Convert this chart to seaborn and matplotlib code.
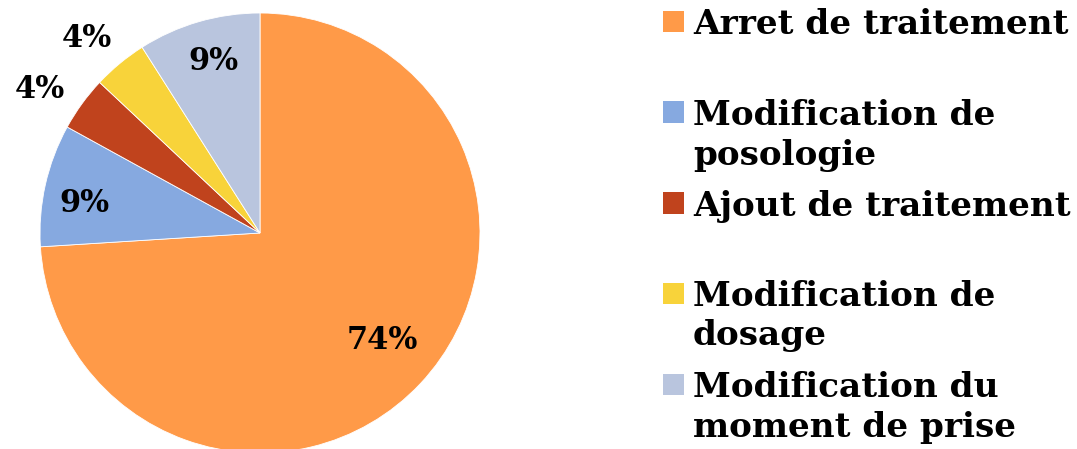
import matplotlib
matplotlib.use("Agg")
import matplotlib.pyplot as plt
from matplotlib.patches import Rectangle
import numpy as np
import seaborn as sns

labels = ["Arret de traitement", "Modification de\nposologie", "Ajout de traitement",
          "Modification de\ndosage", "Modification du\nmoment de prise"]
values = [74, 9, 4, 4, 9]
colors = ["#FF9A48", "#86A9E0", "#C0431D", "#F8D33A", "#B9C5DE"]

sns.set_theme(style="white")
plt.rcParams['font.family'] = ['DejaVu Serif']

W, H = 1077, 449
fig = plt.figure(figsize=(W / 100, H / 100), dpi=100)

# pie centre (260, 233) px, radius 220 px
cx, cy, r = 260, 233, 220
ax = fig.add_axes([(cx - r) / W, (H - cy - r) / H, 2 * r / W, 2 * r / H])
wedges, _ = ax.pie(values, colors=colors, startangle=90, counterclock=False,
                   radius=1, wedgeprops=dict(edgecolor="white", linewidth=0.6))
ax.set_xlim(-1, 1)
ax.set_ylim(-1, 1)
ax.set_aspect("equal")
ax.axis("off")

# label distance from centre (fraction of radius) and small angle nudges
dist = [0.74, 0.81, 1.195, 1.185, 0.81]
nudge = [2, 3, 3, 2, -1]
for w, v, d, n in zip(wedges, values, dist, nudge):
    ang = np.deg2rad((w.theta1 + w.theta2) / 2 + n)
    ax.text(d * np.cos(ang), d * np.sin(ang), f"{v}%", ha="center", va="center",
            fontsize=22, fontweight="bold", color="black")

# legend drawn by hand so squares sit on the first line
ys = [21, 112, 203, 293, 384]
for lab, col, y in zip(labels, colors, ys):
    fig.add_artist(Rectangle((663 / W, (H - y - 10.5) / H), 21 / W, 21 / H,
                             transform=fig.transFigure, facecolor=col, edgecolor="none"))
    fig.text(693 / W, (H - y + 13) / H, lab, ha="left", va="top",
             fontsize=24.7, fontweight="bold", color="black", linespacing=1.25)

fig.savefig("out.png", dpi=100)
